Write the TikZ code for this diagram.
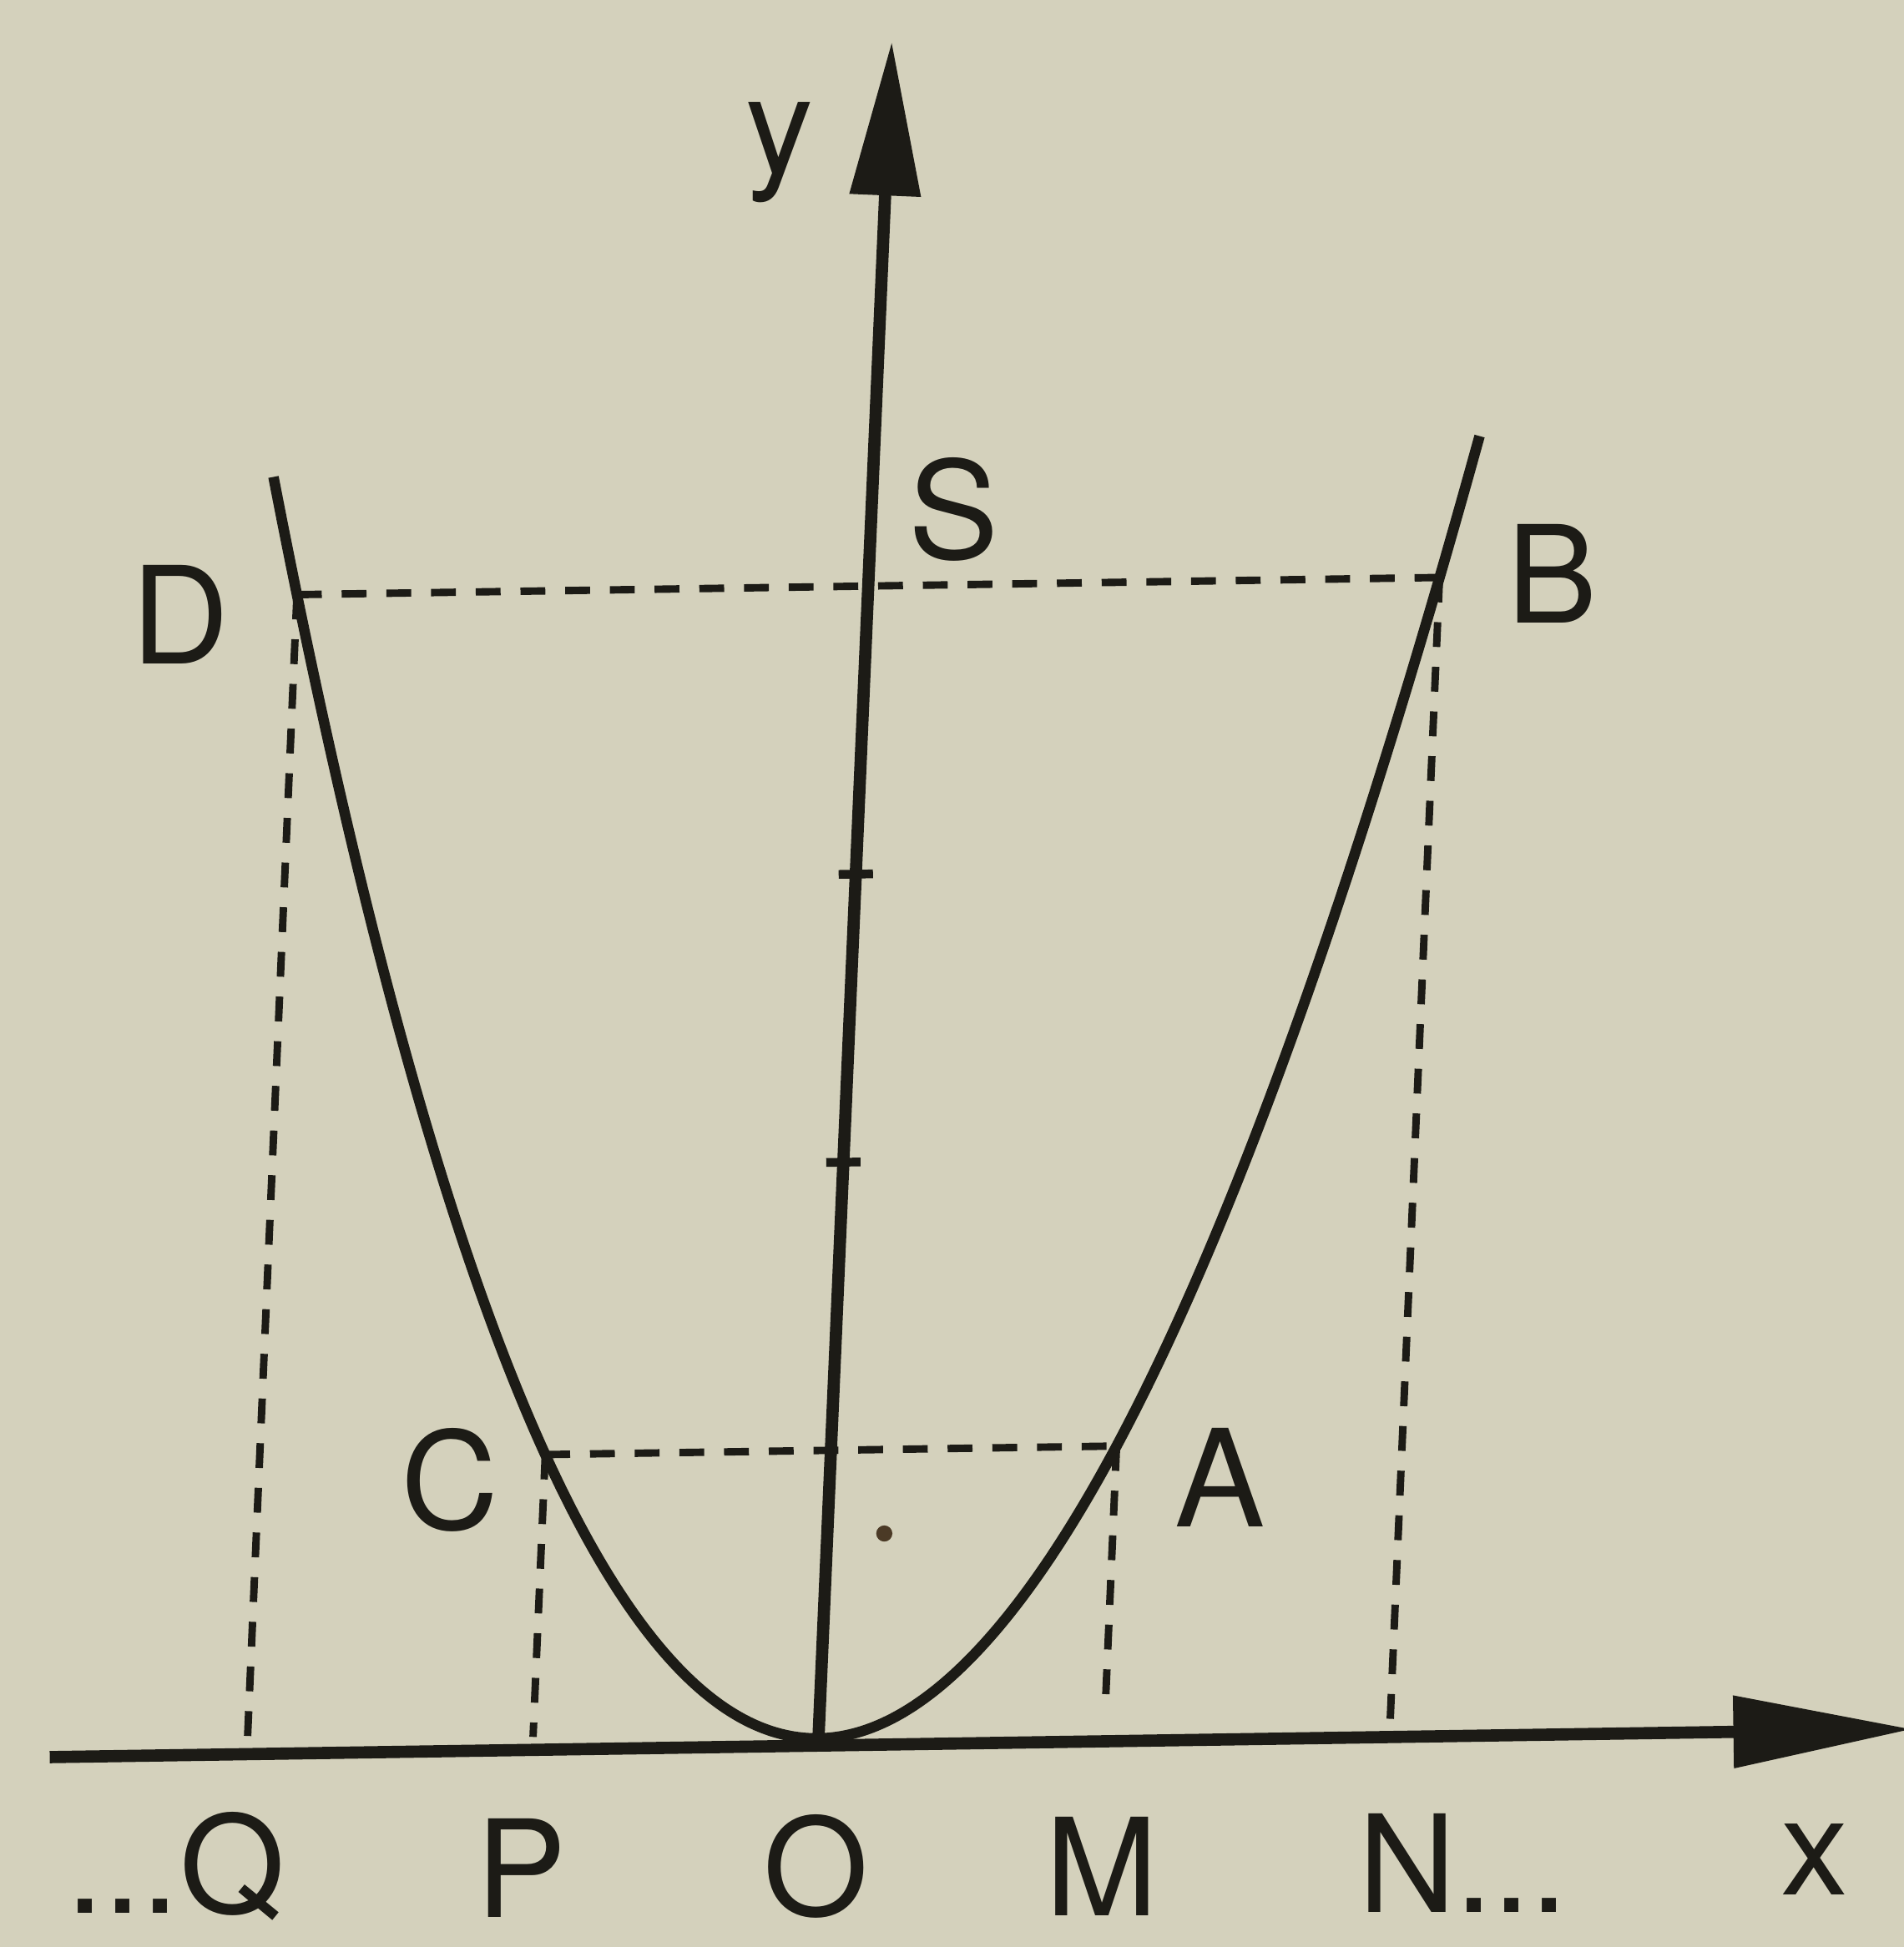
\documentclass[tikz,border=0pt]{standalone}
\usepackage{fontspec}
\setmainfont{TeX Gyre Heros}
\usetikzlibrary{arrows.meta}
\definecolor{paper}{RGB}{212,209,188}
\definecolor{ink}{RGB}{28,27,22}
\definecolor{stain}{RGB}{75,58,38}
\begin{document}
\begin{tikzpicture}[
  axisline/.style={draw=ink, line width=2.8pt},
  curveline/.style={draw=ink, line width=2.4pt},
  guide/.style={draw=ink, line width=1.7pt, dash pattern=on 0.2cm off 0.16cm},
  tickline/.style={draw=ink, line width=2pt},
  lbl/.style={text=ink, inner sep=0pt, font=\fontsize{31}{37}\selectfont},
]
\useasboundingbox (0,0) rectangle (15.33,15.68);
\fill[paper] (0,0) rectangle (15.33,15.68);
\clip (0,0) rectangle (15.33,15.68);
\begin{scope}[cm={2.30,0.0345,0.1002,2.32,(6.59,1.68)}]
  \coordinate (O) at (0,0);
  \coordinate (Ytip) at (0,5.89);
  \coordinate (Xl) at (-2.69,-0.025);
  \coordinate (Xr) at (3.83,-0.025);
  \coordinate (A) at (1,1);
  \coordinate (B) at (2,4);
  \coordinate (C) at (-1,1);
  \coordinate (D) at (-2,4);
  \coordinate (Mf) at (1,0.08);
  \coordinate (Nf) at (2,0.03);
  \coordinate (Pf) at (-1,0.02);
  \coordinate (Qf) at (-2,0.02);
  \coordinate (T2l) at (-0.06,2);
  \coordinate (T2r) at (0.06,2);
  \coordinate (T3l) at (-0.06,3);
  \coordinate (T3r) at (0.06,3);
  \draw[curveline] plot[domain=-2.1:2.12,samples=121,smooth] (\x,{\x*\x});
\end{scope}
% axes
\draw[axisline,-{Triangle[length=1.44cm,width=0.56cm]}] (Xl) -- (Xr);
\draw[axisline,-{Triangle[length=1.24cm,width=0.55cm]}] (O) -- (Ytip);
\draw[tickline] (T2l) -- (T2r);
\draw[tickline] (T3l) -- (T3r);
% dashed guides
\draw[guide] (D) -- (B);
\draw[guide] (C) -- (A);
\draw[guide] (D) -- (Qf);
\draw[guide] (C) -- (Pf);
\draw[guide] (A) -- (Mf);
\draw[guide] (B) -- (Nf);
% stain dot
\fill[stain] (7.12,3.33) circle (0.065);
% labels
\node[lbl] (ly) at (6.28,14.45) {y};
\node[lbl] (lS) at (7.68,11.58) {S};
\node[lbl] (lD) at (1.45,10.73) {D};
\node[lbl] (lB) at (12.50,11.06) {B};
\node[lbl] (lC) at (3.62,3.76) {C};
\node[lbl] (lA) at (9.82,3.78) {A};
\node[lbl,anchor=base east] (lQ) at (2.30,0.27) {...Q};
\node[lbl,anchor=base] (lP) at (4.20,0.24) {P};
\node[lbl,anchor=base] (lO) at (6.57,0.25) {O};
\node[lbl,anchor=base] (lM) at (8.87,0.25) {M};
\node[lbl,anchor=base west] (lN) at (10.93,0.28) {N...};
\node[lbl,anchor=base] (lx) at (14.61,0.42) {x};
\end{tikzpicture}
\end{document}
